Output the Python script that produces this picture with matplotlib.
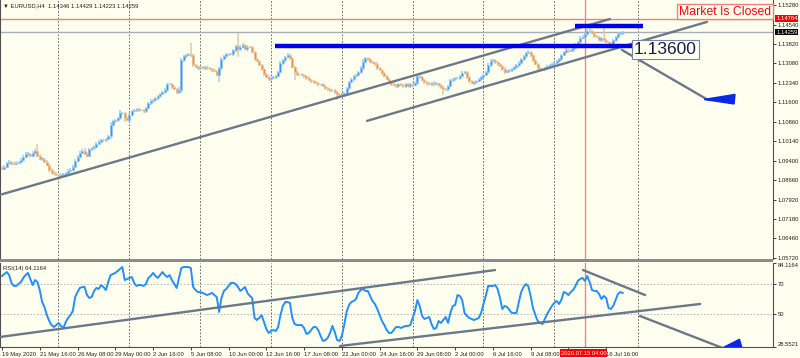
import matplotlib
matplotlib.use("Agg")
import matplotlib.pyplot as plt
from matplotlib.patches import Polygon, Rectangle
import numpy as np

plt.rcParams['font.family'] = ['Liberation Sans', 'DejaVu Sans']

# EURUSD H4, bar 0 = 19 May 2020 00:00 ... bar 263 = 17 Jul 2020 20:00
first_open = 1.0913
closes = [
    1.0909, 1.0917, 1.0932, 1.0936, 1.0928, 1.0928, 1.0932, 1.0936, 1.0944, 1.0955, 1.0966, 1.0966,
    1.0959, 1.0970, 1.0978, 1.0959, 1.0947, 1.0947, 1.0936, 1.0925, 1.0906, 1.0894, 1.0891, 1.0887,
    1.0883, 1.0887, 1.0887, 1.0894, 1.0902, 1.0906, 1.0917, 1.0940, 1.0955, 1.0970, 1.0978, 1.0966,
    1.0959, 1.0982, 1.0989, 1.0993, 1.1004, 1.1012, 1.1016, 1.1016, 1.1023, 1.1031, 1.1076, 1.1088,
    1.1092, 1.1099, 1.1118, 1.1118, 1.1099, 1.1092, 1.1114, 1.1126, 1.1130, 1.1133, 1.1130, 1.1130,
    1.1126, 1.1137, 1.1156, 1.1164, 1.1168, 1.1175, 1.1183, 1.1190, 1.1198, 1.1205, 1.1228, 1.1228,
    1.1217, 1.1209, 1.1198, 1.1205, 1.1319, 1.1334, 1.1338, 1.1342, 1.1338, 1.1300, 1.1293, 1.1289,
    1.1293, 1.1289, 1.1293, 1.1289, 1.1285, 1.1281, 1.1278, 1.1262, 1.1289, 1.1323, 1.1334, 1.1342,
    1.1342, 1.1342, 1.1357, 1.1372, 1.1361, 1.1369, 1.1376, 1.1361, 1.1369, 1.1369, 1.1350, 1.1323,
    1.1316, 1.1300, 1.1285, 1.1266, 1.1255, 1.1247, 1.1251, 1.1255, 1.1259, 1.1274, 1.1308, 1.1319,
    1.1331, 1.1338, 1.1327, 1.1293, 1.1274, 1.1266, 1.1266, 1.1262, 1.1259, 1.1251, 1.1243, 1.1240,
    1.1236, 1.1232, 1.1228, 1.1228, 1.1221, 1.1213, 1.1209, 1.1205, 1.1205, 1.1198, 1.1190, 1.1186,
    1.1190, 1.1194, 1.1213, 1.1236, 1.1247, 1.1259, 1.1262, 1.1274, 1.1289, 1.1312, 1.1327, 1.1323,
    1.1312, 1.1308, 1.1304, 1.1289, 1.1281, 1.1270, 1.1259, 1.1247, 1.1236, 1.1228, 1.1224, 1.1221,
    1.1228, 1.1224, 1.1221, 1.1228, 1.1221, 1.1228, 1.1224, 1.1232, 1.1259, 1.1255, 1.1243, 1.1236,
    1.1232, 1.1228, 1.1232, 1.1228, 1.1232, 1.1224, 1.1217, 1.1209, 1.1209, 1.1221, 1.1243, 1.1247,
    1.1251, 1.1251, 1.1259, 1.1270, 1.1274, 1.1255, 1.1240, 1.1232, 1.1236, 1.1240, 1.1247, 1.1255,
    1.1262, 1.1274, 1.1300, 1.1316, 1.1319, 1.1312, 1.1304, 1.1297, 1.1285, 1.1274, 1.1278, 1.1281,
    1.1285, 1.1293, 1.1300, 1.1308, 1.1323, 1.1334, 1.1346, 1.1350, 1.1338, 1.1319, 1.1304, 1.1289,
    1.1281, 1.1285, 1.1289, 1.1297, 1.1300, 1.1304, 1.1308, 1.1316, 1.1323, 1.1338, 1.1350, 1.1357,
    1.1353, 1.1357, 1.1365, 1.1376, 1.1388, 1.1403, 1.1407, 1.1418, 1.1429, 1.1429, 1.1422, 1.1410,
    1.1407, 1.1395, 1.1403, 1.1395, 1.1388, 1.1384, 1.1380, 1.1395, 1.1407, 1.1418, 1.1422, 1.1426,
]
# wick lengths above / below the body, in pips
wick_up = [
    5, 6, 4, 8, 4, 5, 6, 4, 5, 6, 5, 8,
    4, 6, 4, 26, 7, 5, 4, 6, 5, 4, 6, 5,
    4, 5, 6, 4, 5, 4, 6, 5, 7, 5, 4, 9,
    5, 6, 4, 5, 6, 4, 5, 7, 4, 6, 8, 5,
    6, 5, 12, 6, 5, 4, 6, 5, 4, 6, 5, 4,
    6, 5, 4, 7, 5, 6, 4, 5, 6, 8, 5, 4,
    5, 6, 4, 12, 8, 6, 6, 5, 42, 5, 4, 6,
    5, 4, 6, 5, 4, 6, 5, 6, 4, 7, 5, 6,
    5, 4, 6, 5, 49, 6, 8, 5, 6, 4, 5, 6,
    4, 5, 6, 3, 5, 7, 4, 5, 6, 4, 8, 5,
    6, 8, 5, 4, 6, 5, 3, 6, 5, 4, 7, 5,
    4, 6, 5, 3, 6, 5, 4, 7, 5, 4, 6, 5,
    4, 6, 5, 4, 6, 5, 4, 6, 8, 10, 5, 4,
    6, 5, 4, 7, 5, 3, 6, 5, 4, 6, 8, 4,
    6, 5, 4, 6, 7, 4, 6, 5, 9, 6, 5, 4,
    6, 5, 4, 7, 5, 3, 6, 5, 4, 6, 5, 4,
    6, 5, 4, 8, 5, 4, 6, 5, 3, 6, 5, 4,
    6, 5, 9, 6, 5, 4, 6, 5, 4, 7, 5, 4,
    5, 6, 4, 7, 5, 4, 6, 8, 4, 6, 5, 4,
    6, 5, 4, 6, 5, 4, 6, 5, 4, 6, 5, 7,
    5, 6, 4, 7, 5, 8, 6, 5, 8, 22, 5, 4,
    6, 5, 4, 42, 5, 4, 6, 5, 4, 6, 5, 3,
]
wick_dn = [
    5, 4, 6, 5, 4, 6, 5, 4, 6, 5, 4, 7,
    5, 4, 6, 5, 4, 7, 5, 4, 8, 5, 4, 6,
    10, 5, 4, 6, 5, 4, 6, 5, 4, 7, 5, 4,
    6, 5, 4, 6, 5, 3, 6, 5, 4, 6, 8, 4,
    6, 5, 4, 5, 12, 4, 6, 5, 4, 6, 5, 4,
    6, 5, 4, 6, 5, 4, 7, 5, 4, 6, 5, 4,
    5, 4, 6, 5, 9, 6, 5, 4, 6, 5, 4, 6,
    5, 4, 6, 5, 4, 6, 5, 4, 26, 5, 4, 6,
    5, 4, 6, 5, 30, 6, 5, 4, 6, 5, 4, 6,
    5, 4, 6, 5, 4, 8, 5, 4, 6, 5, 4, 6,
    5, 4, 6, 5, 30, 6, 5, 4, 6, 5, 4, 6,
    5, 4, 7, 5, 4, 6, 5, 4, 6, 5, 22, 6,
    5, 4, 6, 5, 4, 6, 5, 4, 7, 5, 4, 6,
    5, 4, 6, 5, 4, 6, 5, 4, 6, 5, 4, 8,
    5, 4, 6, 5, 4, 6, 5, 4, 6, 5, 4, 6,
    5, 4, 6, 5, 4, 6, 5, 22, 6, 5, 4, 6,
    5, 4, 6, 5, 4, 7, 5, 4, 6, 5, 4, 6,
    5, 4, 6, 5, 4, 6, 5, 4, 6, 5, 4, 6,
    5, 4, 6, 5, 4, 6, 5, 4, 6, 5, 4, 6,
    5, 4, 6, 5, 4, 6, 5, 4, 6, 5, 4, 6,
    5, 4, 6, 5, 4, 6, 5, 4, 6, 5, 4, 6,
    5, 4, 6, 5, 4, 6, 5, 4, 6, 5, 4, 6,
]
rsi = [
    75.3, 76.6, 77.9, 75.9, 70.7, 68.7, 68.7, 70.0, 71.3, 74.0, 75.9, 77.3,
    73.3, 69.3, 72.6, 71.3, 66.0, 58.1, 54.8, 49.5, 45.6, 42.9, 41.6, 42.9,
    44.3, 42.3, 41.0, 44.9, 47.6, 49.5, 52.2, 61.4, 64.7, 67.4, 68.0, 68.0,
    62.7, 60.8, 61.4, 65.4, 67.4, 66.7, 69.3, 68.0, 66.0, 71.3, 75.9, 76.6,
    77.3, 78.6, 79.9, 81.2, 72.6, 73.3, 74.0, 74.6, 70.7, 68.7, 69.3, 69.3,
    68.7, 70.0, 74.0, 75.3, 77.3, 75.3, 74.0, 75.9, 77.9, 75.9, 74.6, 75.9,
    72.6, 70.0, 67.4, 74.0, 80.6, 81.2, 81.2, 81.2, 80.6, 68.0, 66.0, 64.7,
    64.7, 64.1, 63.4, 62.7, 63.4, 64.1, 62.7, 61.4, 51.5, 60.8, 65.4, 66.7,
    68.7, 70.7, 70.7, 70.0, 68.0, 65.4, 66.7, 68.0, 64.1, 62.1, 60.8, 47.6,
    46.2, 47.6, 49.5, 44.9, 40.3, 37.7, 39.0, 39.6, 39.0, 41.6, 49.5, 55.5,
    58.1, 58.1, 57.5, 47.6, 43.6, 42.9, 42.9, 42.9, 41.0, 37.0, 37.7, 39.6,
    41.6, 41.6, 39.6, 35.7, 32.4, 33.0, 34.4, 37.7, 42.3, 38.3, 33.0, 32.4,
    35.7, 42.9, 51.5, 56.1, 58.1, 58.8, 60.1, 64.1, 66.0, 66.7, 65.4, 65.4,
    62.1, 58.8, 56.8, 53.5, 49.5, 45.6, 42.9, 39.6, 37.7, 37.7, 39.6, 41.6,
    41.6, 41.0, 41.6, 42.3, 42.3, 42.9, 47.6, 52.2, 59.4, 55.5, 48.9, 46.9,
    47.6, 48.2, 43.6, 40.3, 41.0, 45.6, 44.3, 46.2, 48.2, 44.3, 50.9, 55.5,
    56.1, 62.7, 62.1, 59.4, 50.9, 48.9, 47.6, 46.9, 46.2, 46.9, 47.6, 50.9,
    56.8, 62.1, 68.7, 68.7, 68.7, 69.3, 66.7, 60.8, 53.5, 55.5, 54.8, 52.8,
    50.9, 50.9, 50.9, 58.1, 64.7, 68.0, 70.0, 68.7, 62.1, 54.2, 49.5, 45.6,
    44.3, 43.6, 46.9, 50.2, 52.8, 55.5, 57.5, 58.8, 56.8, 59.4, 64.7, 64.1,
    62.7, 64.7, 66.0, 68.7, 72.0, 73.3, 74.0, 72.0, 75.3, 71.3, 66.0, 65.4,
    65.4, 63.4, 60.1, 62.1, 60.8, 54.2, 53.5, 55.5, 59.4, 63.4, 64.7, 64.1,
]

price_ticks = [1.15280, 1.14540, 1.13820, 1.13080, 1.12340, 1.11600, 1.10860,
               1.10140, 1.09400, 1.08660, 1.07920, 1.07180, 1.06460, 1.05720]
rsi_ticks = [84.1164, 70, 50, 28.5521]
time_ticks = [0, 16, 32, 48, 64, 80, 96, 112, 128, 144, 160, 176, 192, 208, 224, 240, 256]
# the label at bar 240 sits under the red time marker, so it is left blank
time_labels = ["19 May 2020", "21 May 16:00", "26 May 08:00", "29 May 00:00", "2 Jun 16:00",
               "5 Jun 08:00", "10 Jun 00:00", "12 Jun 16:00", "17 Jun 08:00", "22 Jun 00:00",
               "24 Jun 16:00", "29 Jun 08:00", "2 Jul 00:00", "6 Jul 16:00", "9 Jul 08:00",
               "", "16 Jul 16:00"]
grid_bars = [23.7, 53.8, 83.9, 114.0, 143.9, 174.0, 204.0, 234.0, 269.5]
marked_bar = 247          # 2020.07.15 04:00
ask_line = 1.14764
bid_line = 1.14259

# objects drawn on the chart: (bar, value) pairs
channel_lines = [[(-1.0, 1.0810), (257.6, 1.1475)],
                 [(154.7, 1.1090), (298.7, 1.1464)],
                 [(262.7, 1.1358), (299.2, 1.1169)]]
levels = [(242.8, 271.6, 1.14490), (115.7, 269.1, 1.13730)]
rsi_lines = [[(-1.0, 35.0), (208.9, 79.2)],
             [(143.2, 29.1), (295.8, 56.8)],
             [(246.2, 79.2), (272.5, 62.7)],
             [(270.3, 48.9), (307.6, 26.4)]]
arrow_main = [(297.5, 1.1171), (310.6, 1.1190), (310.2, 1.1154)]
arrow_rsi = [(305.5, 28.0), (312.5, 33.5), (313.5, 28.0)]

BG = '#fffff0'
BULL, BULL_L = '#3a96f5', '#9ccbfa'
BEAR, BEAR_L = '#e39552', '#efc39c'
TXT = '#202020'
FS = 4.2
PIP = 0.0001

fig = plt.figure(figsize=(8, 3.58), dpi=100, facecolor=BG)
ax = fig.add_axes([0, 99 / 358, 773 / 800, 259 / 358], facecolor=BG)
ax2 = fig.add_axes([0, 11.2 / 358, 773 / 800, 84.2 / 358], facecolor=BG)
fig.patches.append(Rectangle((0, 95.6 / 358), 773 / 800, 3.4 / 358, transform=fig.transFigure,
                             facecolor='#8c8c8c', edgecolor='none'))

# candles
c = np.array(closes)
o = np.r_[first_open, c[:-1]]
x = np.arange(len(c))
lo_body = np.minimum(o, c)
hi_body = np.maximum(o, c)
hi = hi_body + np.array(wick_up) * PIP
lo = lo_body - np.array(wick_dn) * PIP
bull = c >= o
col = np.where(bull, BULL, BEAR)
col_l = np.where(bull, BULL_L, BEAR_L)
ax.vlines(x, lo, hi, colors=col_l, lw=1.1, zorder=3)
ax.bar(x, np.maximum(hi_body - lo_body, 0.00008), bottom=lo_body, width=0.85,
       color=col, edgecolor=col_l, linewidth=0.4, zorder=4)

for g in grid_bars:
    for a in (ax, ax2):
        a.axvline(g, color='#555555', lw=0.6, ls=(0, (2, 2)), zorder=1)

ax.axhline(ask_line, color='#f08080', lw=1, zorder=2)
ax.axhline(bid_line, color='#a8aeb6', lw=1, zorder=2)
for a in (ax, ax2):
    a.axvline(marked_bar, color='#ff8080', lw=1, zorder=2)

for (x0, y0), (x1, y1) in channel_lines:
    ax.plot([x0, x1], [y0, y1], color='#6b7888', lw=1.7, solid_capstyle='round', zorder=5)
for x0, x1, yv in levels:
    ax.plot([x0, x1], [yv, yv], color='#0000f0', lw=3.2, solid_capstyle='butt', zorder=6)
ax.add_patch(Polygon(arrow_main, closed=True, facecolor='#0a28e6', edgecolor='#0a28e6', zorder=6))

ax.text(281.1, 1.1360, "1.13600", fontsize=12.5, color='#1a1a50', ha='center', va='center',
        zorder=8, bbox=dict(boxstyle='square,pad=0.12', fc=BG, ec='#7a86a8', lw=0.8))
ax.text(0.938, 0.955, "Market Is Closed", transform=ax.transAxes, fontsize=8.8, color='#ff0000',
        ha='center', va='center', zorder=8,
        bbox=dict(boxstyle='square,pad=0.15', fc=BG, ec='#f08080', lw=1.0))
ax.text(0.004, 0.988, "\u25bc EURUSD,H4  1.14346 1.14429 1.14223 1.14259", transform=ax.transAxes,
        fontsize=FS, color=TXT, va='top', ha='left', family=['Liberation Sans', 'DejaVu Sans'])

ax.set_xlim(-0.85, 326.7)
ax.set_ylim(1.05679, 1.15469)
ax.set_xticks([])
ax.yaxis.tick_right()
ax.set_yticks(price_ticks)
ax.set_yticklabels([f"{p:.5f}" for p in price_ticks])
ax.tick_params(axis='y', length=2, width=0.6, pad=1.5, labelsize=FS, colors=TXT)
ytr = ax.get_yaxis_transform()
ax.text(1.004, ask_line, f"{ask_line:.5f}", transform=ytr, fontsize=FS, color='white', va='center',
        ha='left', zorder=9, clip_on=False, bbox=dict(boxstyle='square,pad=0.15', fc='#ff0000', ec='none'))
ax.text(1.004, bid_line, f"{bid_line:.5f}", transform=ytr, fontsize=FS, color='white', va='center',
        ha='left', zorder=9, clip_on=False, bbox=dict(boxstyle='square,pad=0.15', fc='#000000', ec='none'))

# RSI window
for lv in (70, 50):
    ax2.axhline(lv, color='#b0b0b0', lw=0.6, ls=(0, (2, 2)), zorder=1)
ax2.plot(x, rsi, color='#1e90ff', lw=1.4, zorder=4)
for (x0, y0), (x1, y1) in rsi_lines:
    ax2.plot([x0, x1], [y0, y1], color='#6b7888', lw=1.7, solid_capstyle='round', zorder=5)
ax2.add_patch(Polygon(arrow_rsi, closed=True, facecolor='#0a28e6', edgecolor='#0a28e6', zorder=6))
ax2.text(0.004, 0.96, "RSI(14) 64.1164", transform=ax2.transAxes, fontsize=FS, color=TXT,
         va='top', ha='left')

ax2.set_xlim(-0.85, 326.7)
ax2.set_ylim(28.5521, 84.1164)
ax2.yaxis.tick_right()
ax2.set_yticks(rsi_ticks)
ax2.set_yticklabels(["84.1164", "70", "50", "28.5521"])
ax2.tick_params(axis='y', length=2, width=0.6, pad=1.5, labelsize=FS, colors=TXT)
ylabs = ax2.get_yticklabels()
ylabs[0].set_va('top')
ylabs[-1].set_va('bottom')
ax2.set_xticks(time_ticks)
ax2.set_xticklabels(time_labels)
ax2.tick_params(axis='x', length=2, width=0.6, pad=1.5, labelsize=FS, colors=TXT)
for lab in ax2.get_xticklabels():
    lab.set_ha('left')
ax2.text(marked_bar - 0.6, -0.075, "2020.07.15 04:00", transform=ax2.get_xaxis_transform(), fontsize=FS,
         color='white', ha='center', va='center', zorder=10, clip_on=False,
         bbox=dict(boxstyle='square,pad=0.2', fc='#ff0000', ec='none'))

for a in (ax, ax2):
    for s in a.spines.values():
        s.set_color('#505050')
        s.set_linewidth(0.8)
ax.spines['top'].set_visible(False)
ax.spines['bottom'].set_visible(False)
ax2.spines['top'].set_visible(False)

fig.savefig("out.png", dpi=100, facecolor=BG)
